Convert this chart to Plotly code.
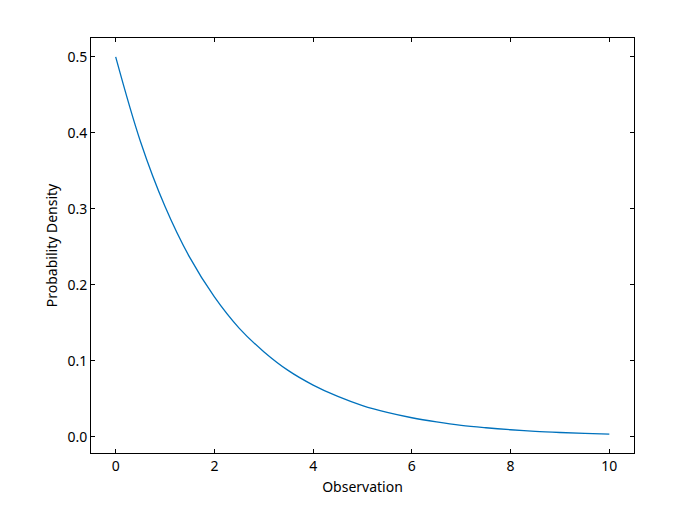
import plotly.graph_objects as go

observation = [0, 0.5, 1, 1.5, 2, 2.5, 3, 3.5, 4, 4.5, 5, 5.5, 6, 6.5, 7, 7.5, 8, 8.5, 9, 9.5, 10]
density = [0.500, 0.389, 0.303, 0.236, 0.184, 0.143, 0.112, 0.087, 0.068, 0.053, 0.041,
           0.032, 0.025, 0.0195, 0.015, 0.0118, 0.0092, 0.0071, 0.0056, 0.0044, 0.0034]
x_ticks = [0, 2, 4, 6, 8, 10]
y_ticks = [0.0, 0.1, 0.2, 0.3, 0.4, 0.5]
y_tick_labels = ["0.0", "0.1", "0.2", "0.3", "0.4", "0.5"]

fig = go.Figure()
fig.add_trace(go.Scatter(x=observation, y=density, mode="lines",
                         line=dict(color="#0072BD", width=1.3, shape="spline", smoothing=1.0),
                         showlegend=False))

axis_common = dict(showgrid=False, zeroline=False, showline=True, linecolor="black", linewidth=1,
                   mirror="ticks", ticks="inside", ticklen=4, tickwidth=1, tickcolor="black",
                   tickfont=dict(size=14, color="black"))
fig.update_xaxes(range=[-0.5, 10.5], tickvals=x_ticks, ticktext=[str(t) for t in x_ticks],
                 title=dict(text="Observation", font=dict(size=14, color="black"), standoff=8),
                 **axis_common)
fig.update_yaxes(range=[-0.0214, 0.5248], tickvals=y_ticks, ticktext=y_tick_labels,
                 title=dict(text="Probability Density", font=dict(size=14, color="black"), standoff=6),
                 **axis_common)
fig.update_layout(width=700, height=509, margin=dict(l=83, r=74, t=30, b=64),
                  plot_bgcolor="white", paper_bgcolor="white",
                  font=dict(family="Noto Sans, Open Sans, sans-serif", size=14, color="black"))
fig.write_html("out.html")
